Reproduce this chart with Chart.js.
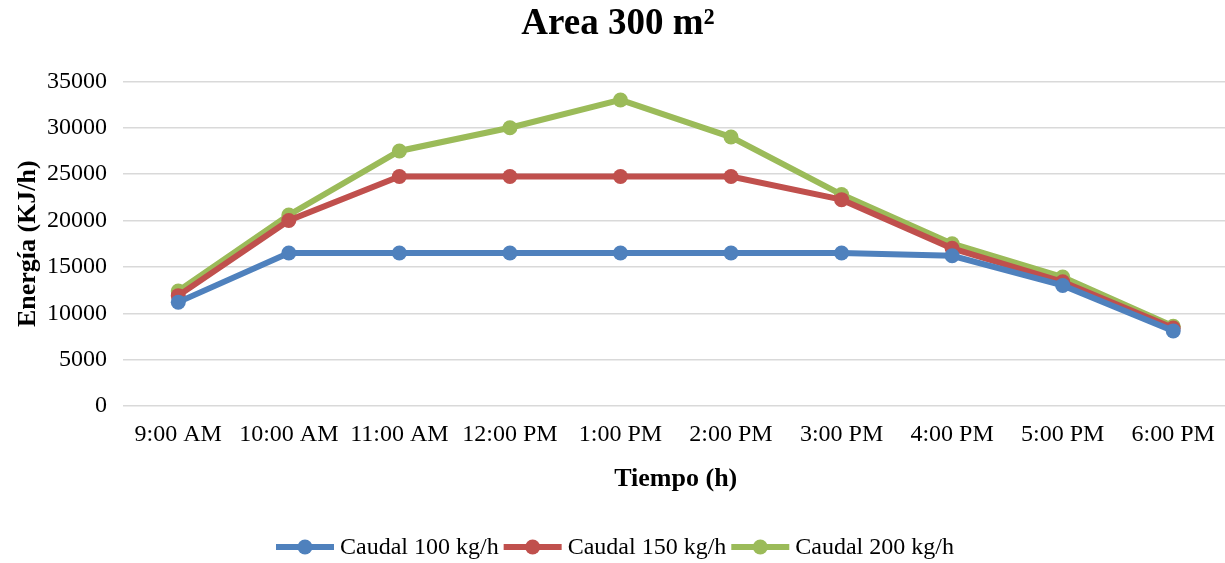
<!DOCTYPE html>
<html>
<head>
<meta charset="utf-8">
<script src="https://cdn.jsdelivr.net/npm/chart.js@4"></script>
<style>
  html, body { margin: 0; padding: 0; background: #fff; overflow: hidden; }
  #wrap { width: 1236px; height: 563px; }
</style>
</head>
<body>
<div id="wrap"><canvas id="myChart"></canvas></div>
<script>
// data
const horas = ['9:00 AM', '10:00 AM', '11:00 AM', '12:00 PM', '1:00 PM', '2:00 PM', '3:00 PM', '4:00 PM', '5:00 PM', '6:00 PM'];
const caudal100 = [11200, 16500, 16500, 16500, 16500, 16500, 16500, 16200, 13000, 8100];
const caudal150 = [11900, 20000, 24750, 24750, 24750, 24750, 22250, 17000, 13400, 8400];
const caudal200 = [12400, 20600, 27500, 30000, 33000, 29000, 22800, 17500, 13900, 8600];
const nombres = ['Caudal 100 kg/h', 'Caudal 150 kg/h', 'Caudal 200 kg/h'];
const colores = ['#4F81BD', '#C0504D', '#9BBB59'];

const serif = "'Liberation Serif', 'Times New Roman', serif";

function serie(i, data) {
  return {
    label: nombres[i],
    data: data,
    borderColor: colores[i],
    backgroundColor: colores[i],
    borderWidth: 6,
    pointRadius: 7.5,
    pointHoverRadius: 7.5,
    pointBorderWidth: 0,
    tension: 0
  };
}

// legend drawn by hand: line with a dot in the middle, then the text
const leyenda = {
  id: 'leyenda',
  afterDraw(chart) {
    const ctx = chart.ctx;
    const y = 547;
    ctx.save();
    ctx.font = '24px ' + serif;
    ctx.textBaseline = 'middle';
    const lineW = 58, gap = 6, sep = 5;
    let x = 276;
    nombres.forEach((n, i) => {
      ctx.strokeStyle = colores[i];
      ctx.lineWidth = 6;
      ctx.beginPath();
      ctx.moveTo(x, y);
      ctx.lineTo(x + lineW, y);
      ctx.stroke();
      ctx.fillStyle = colores[i];
      ctx.beginPath();
      ctx.arc(x + lineW / 2, y, 7.5, 0, Math.PI * 2);
      ctx.fill();
      x += lineW + gap;
      ctx.fillStyle = '#000';
      ctx.fillText(n, x, y + 1);
      x += ctx.measureText(n).width + sep;
    });
    ctx.restore();
  }
};

const ctx = document.getElementById('myChart').getContext('2d');
const chart = new Chart(ctx, {
  type: 'line',
  data: {
    labels: horas,
    datasets: [serie(0, caudal100), serie(1, caudal150), serie(2, caudal200)]
  },
  options: {
    responsive: true,
    maintainAspectRatio: false,
    animation: false,
    layout: { padding: { top: 2, right: 0, bottom: 68, left: 0 } },
    plugins: {
      legend: { display: false },
      tooltip: { enabled: false },
      title: {
        display: true,
        text: 'Area 300 m²',
        color: '#000',
        font: { family: serif, size: 37, weight: 'bold' },
        padding: { top: 0, bottom: 35 }
      }
    },
    scales: {
      x: {
        offset: true,
        grid: { display: false },
        border: { display: false },
        ticks: { color: '#000', font: { family: serif, size: 24 }, padding: 6, maxRotation: 0, autoSkip: false },
        title: {
          display: true,
          text: 'Tiempo (h)',
          color: '#000',
          font: { family: serif, size: 26, weight: 'bold' },
          padding: { top: 9, bottom: 0 }
        }
      },
      y: {
        min: 0,
        max: 35000,
        grid: { color: '#d9d9d9', lineWidth: 1.5, drawTicks: false },
        border: { display: false },
        ticks: {
          stepSize: 5000, color: '#000', font: { family: serif, size: 24 }, padding: 16,
          callback: v => String(v)
        },
        title: {
          display: true,
          text: 'Energía (KJ/h)',
          color: '#000',
          font: { family: serif, size: 26, weight: 'bold' },
          padding: { top: 13, bottom: 4 }
        },
        afterFit(scale) { scale.width = 123; }
      }
    }
  },
  plugins: [leyenda]
});
</script>
</body>
</html>
